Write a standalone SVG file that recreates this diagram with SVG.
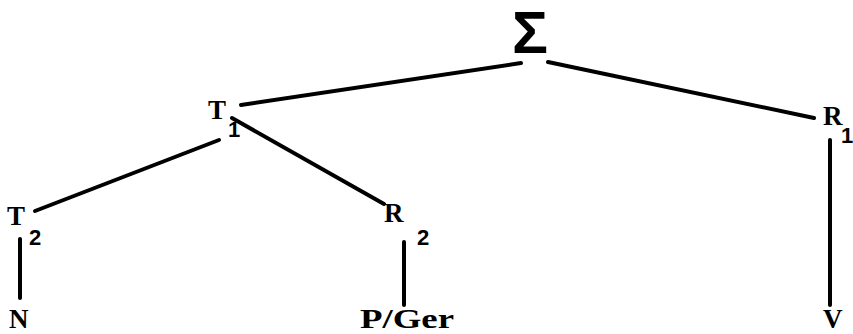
<svg xmlns="http://www.w3.org/2000/svg" width="853" height="334" viewBox="0 0 853 334">
<style>
.lbl{font-family:"Liberation Serif","Times New Roman",serif;font-weight:bold;font-size:27px;fill:#000}
.sub{font-family:"Liberation Sans",Arial,sans-serif;font-weight:bold;font-size:22px;fill:#000}
.sig{font-family:"Liberation Sans",Arial,sans-serif;font-weight:bold;font-size:60px;fill:#000}
.edge{stroke:#000;stroke-width:4;stroke-linecap:round;fill:none}
</style>
<rect width="853" height="334" fill="#fff"/>
<g id="connectors">
<line class="edge" x1="521" y1="63" x2="241" y2="105"/>
<line class="edge" x1="548" y1="62" x2="814" y2="118"/>
<line class="edge" x1="219" y1="140" x2="35" y2="211"/>
<line class="edge" x1="232" y1="118" x2="384" y2="204"/>
<line class="edge" x1="20" y1="239" x2="20" y2="298"/>
<line class="edge" x1="404" y1="242" x2="404" y2="305"/>
<line class="edge" x1="830" y1="140" x2="830" y2="305"/>
</g>
<g id="sigma"><text class="sig" x="512" y="53">Σ</text></g>
<g id="T1"><text class="lbl" x="208" y="119">T</text><text class="sub" x="228" y="137">1</text></g>
<g id="R1"><text class="lbl" x="823" y="125">R</text><text class="sub" x="841" y="143">1</text></g>
<g id="T2"><text class="lbl" x="7" y="225">T</text><text class="sub" x="29" y="245">2</text></g>
<g id="R2"><text class="lbl" x="384" y="222">R</text><text class="sub" x="417" y="245">2</text></g>
<g id="N"><text class="lbl" x="9" y="328">N</text></g>
<g id="PGer"><text class="lbl" x="360" y="328" textLength="94" lengthAdjust="spacingAndGlyphs">P/Ger</text></g>
<g id="V"><text class="lbl" x="823" y="328">V</text></g>
</svg>
